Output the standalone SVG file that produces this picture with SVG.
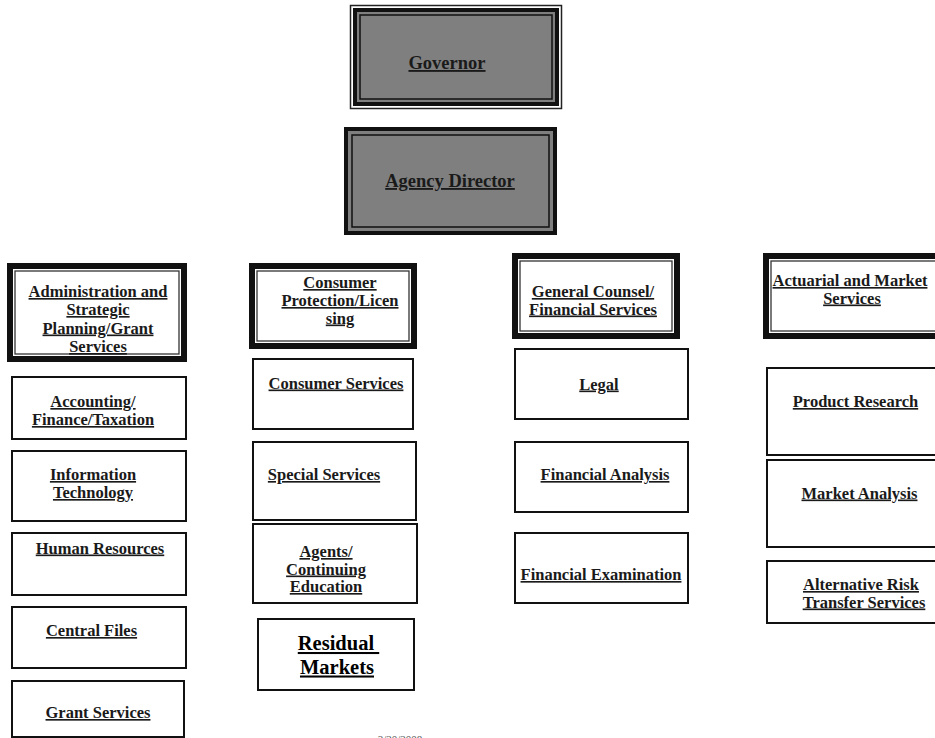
<svg xmlns="http://www.w3.org/2000/svg" width="935" height="738" viewBox="0 0 935 738">
<style>
.bg{fill:#ffffff}
.box{fill:#ffffff;stroke:#111111;stroke-width:2}
.hdr{fill:#ffffff;stroke:#111111;stroke-width:6}
.hin{fill:none;stroke:#333333;stroke-width:1.3}
.top{fill:#7f7f7f;stroke:#111111;stroke-width:4}
.tin{fill:none;stroke:#111111;stroke-width:1.5}
.t{font-family:"Liberation Serif","Times New Roman",serif;font-weight:bold;font-size:16.5px;fill:#1a1a1a;text-anchor:middle;text-decoration:underline}
.big{font-size:18.5px}
.res{font-size:20.5px;fill:#000000}
.date{font-family:"Liberation Serif","Times New Roman",serif;font-size:11px;fill:#555555;text-anchor:middle}
</style>
<rect class="bg" x="0" y="0" width="935" height="738"/>
<g id="connectors"/>

<g id="governor">
<rect x="350.5" y="5.5" width="211" height="103" fill="none" stroke="#222" stroke-width="1.5"/>
<rect class="top" x="355" y="10" width="202" height="94"/>
<rect class="tin" x="360" y="15" width="192" height="84"/>
<text class="t big" x="447" y="69">Governor</text>
</g>

<g id="agency-director">
<rect class="top" x="346" y="129" width="209" height="104" stroke-width="6"/>
<rect class="tin" x="352" y="135" width="197" height="92"/>
<text class="t big" x="450" y="187">Agency Director</text>
</g>

<g id="admin-header">
<rect class="hdr" x="10" y="266" width="174" height="93"/>
<rect class="hin" x="15" y="271" width="164" height="83"/>
<text class="t" x="98" y="297">Administration and</text>
<text class="t" x="98" y="315">Strategic</text>
<text class="t" x="98" y="333.5">Planning/Grant</text>
<text class="t" x="98" y="352">Services</text>
</g>

<g id="consumer-header">
<rect class="hdr" x="252" y="266" width="162" height="80"/>
<rect class="hin" x="257" y="271" width="152" height="70"/>
<text class="t" x="340" y="288">Consumer</text>
<text class="t" x="340" y="306">Protection/Licen</text>
<text class="t" x="340" y="323.5">sing</text>
</g>

<g id="counsel-header">
<rect class="hdr" x="515" y="256" width="162" height="80"/>
<rect class="hin" x="520" y="261" width="152" height="70"/>
<text class="t" x="593" y="297">General Counsel/</text>
<text class="t" x="593" y="314.5">Financial Services</text>
</g>

<g id="actuarial-header">
<rect class="hdr" x="766" y="256" width="176" height="80"/>
<rect class="hin" x="771" y="261" width="170" height="70"/>
<text class="t" x="850" y="286">Actuarial and Market</text>
<text class="t" x="852" y="303.5">Services</text>
</g>

<g id="accounting">
<rect class="box" x="12" y="377" width="174" height="62"/>
<text class="t" x="93" y="407">Accounting/</text>
<text class="t" x="93" y="425">Finance/Taxation</text>
</g>
<g id="information-technology">
<rect class="box" x="12" y="451" width="174" height="70"/>
<text class="t" x="93" y="480">Information</text>
<text class="t" x="93" y="498">Technology</text>
</g>
<g id="human-resources">
<rect class="box" x="12" y="533" width="174" height="62"/>
<text class="t" x="100" y="553.5">Human Resources</text>
</g>
<g id="central-files">
<rect class="box" x="12" y="607" width="174" height="61"/>
<text class="t" x="91.5" y="636">Central Files</text>
</g>
<g id="grant-services">
<rect class="box" x="12" y="681" width="172" height="56"/>
<text class="t" x="98" y="718">Grant Services</text>
</g>

<g id="consumer-services">
<rect class="box" x="253" y="359" width="160" height="70"/>
<text class="t" x="336" y="388.5">Consumer Services</text>
</g>
<g id="special-services">
<rect class="box" x="253" y="442" width="163" height="78"/>
<text class="t" x="324" y="480">Special Services</text>
</g>
<g id="agents-education">
<rect class="box" x="253" y="524" width="164" height="79"/>
<text class="t" x="326" y="557">Agents/</text>
<text class="t" x="326" y="574.5">Continuing</text>
<text class="t" x="326" y="592">Education</text>
</g>
<g id="residual-markets">
<rect class="box" x="258" y="619" width="156" height="71"/>
<text class="t res" x="338.5" y="650" xml:space="preserve" style="white-space:pre">Residual </text>
<text class="t res" x="337" y="673.5">Markets</text>
</g>

<g id="legal">
<rect class="box" x="515" y="349" width="173" height="70"/>
<text class="t" x="599" y="389.5">Legal</text>
</g>
<g id="financial-analysis">
<rect class="box" x="515" y="442" width="173" height="70"/>
<text class="t" x="605" y="480">Financial Analysis</text>
</g>
<g id="financial-examination">
<rect class="box" x="515" y="533" width="173" height="70"/>
<text class="t" x="601" y="580">Financial Examination</text>
</g>

<g id="product-research">
<rect class="box" x="767" y="368" width="180" height="87"/>
<text class="t" x="855.5" y="407">Product Research</text>
</g>
<g id="market-analysis">
<rect class="box" x="767" y="460" width="180" height="87"/>
<text class="t" x="859.5" y="498.5">Market Analysis</text>
</g>
<g id="alternative-risk">
<rect class="box" x="767" y="561" width="180" height="62"/>
<text class="t" x="861" y="590">Alternative Risk</text>
<text class="t" x="864" y="607.5">Transfer Services</text>
</g>

<text class="date" x="400" y="743">3/20/2008</text>
</svg>
